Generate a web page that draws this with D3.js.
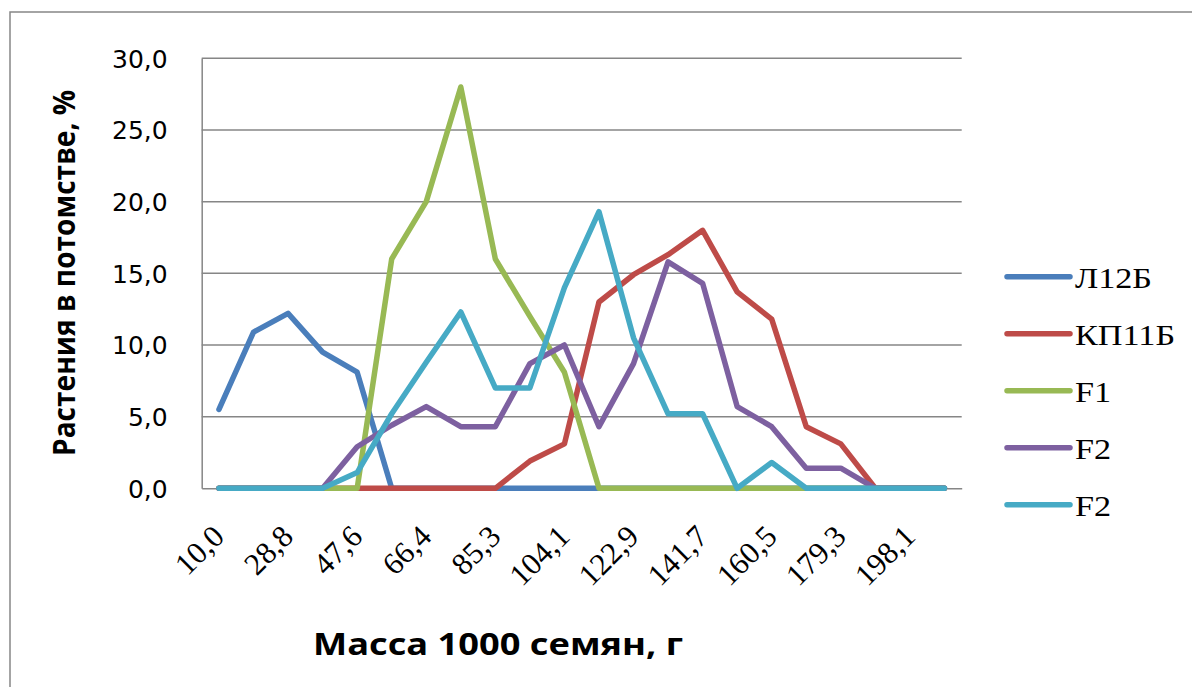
<!DOCTYPE html>
<html>
<head>
<meta charset="utf-8">
<script src="https://cdn.jsdelivr.net/npm/d3@7"></script>
<style>
  html, body { margin: 0; padding: 0; background: #ffffff; }
  svg { display: block; }
</style>
</head>
<body>
<svg id="chart" width="1192" height="687"></svg>
<script>
// ---- data ----
const categories = ["10,0","19,4","28,8","38,2","47,6","57,0","66,4","75,8","85,3","94,7","104,1",
                    "113,5","122,9","132,3","141,7","151,1","160,5","169,9","179,3","188,7","198,1","207,5"];
const xTickLabels = ["10,0","28,8","47,6","66,4","85,3","104,1","122,9","141,7","160,5","179,3","198,1"];
const yTicks = [0, 5, 10, 15, 20, 25, 30];
const seriesNames = ["Л12Б", "КП11Б", "F1", "F2", "F2"];
const seriesL12B  = [5.5,10.9,12.2,9.5,8.1,0,0,0,0,0,0,0,0,0,0,0,0,0,0,0,0,0];
const seriesKP11B = [0,0,0,0,0,0,0,0,0,1.9,3.1,13.0,14.9,16.3,18.0,13.7,11.8,4.3,3.1,0,0,0];
const seriesF1    = [0,0,0,0,0,16.0,20.0,28.0,16.0,12.0,8.1,0,0,0,0,0,0,0,0,0,0,0];
const seriesF2a   = [0,0,0,0,2.9,4.4,5.7,4.3,4.3,8.7,10.0,4.3,8.7,15.8,14.3,5.7,4.3,1.4,1.4,0,0,0];
const seriesF2b   = [0,0,0,0,1.1,5.2,8.8,12.3,7.0,7.0,14.0,19.3,10.5,5.2,5.2,0,1.8,0,0,0,0,0];
const seriesValues = [seriesL12B, seriesKP11B, seriesF1, seriesF2a, seriesF2b];
const colors = ["#4a7ebb", "#be4b48", "#98b954", "#7d60a0", "#46aac5"];

// ---- layout ----
const svg = d3.select("#chart");
const plot = { left: 201.7, right: 961.7, top: 58.3, bottom: 488.3 };
const gridColor = "#868686";

// chart area border
svg.append("rect")
  .attr("x", 10).attr("y", 12).attr("width", 1300).attr("height", 800)
  .attr("fill", "#ffffff").attr("stroke", "#878787").attr("stroke-width", 1.5);

const x = d3.scaleBand().domain(categories).range([plot.left, plot.right]).paddingInner(0).paddingOuter(0);
const y = d3.scaleLinear().domain([0, 30]).range([plot.bottom, plot.top]);
const cx = c => x(c) + x.bandwidth() / 2;

// gridlines
svg.append("g").selectAll("line")
  .data(yTicks.filter(t => t > 0))
  .join("line")
  .attr("x1", plot.left).attr("x2", plot.right)
  .attr("y1", d => y(d)).attr("y2", d => y(d))
  .attr("stroke", gridColor).attr("stroke-width", 1.5);

// y axis
const yAxis = svg.append("g")
  .attr("transform", `translate(${plot.left},0)`)
  .call(d3.axisLeft(y).tickValues(yTicks).tickSize(0).tickSizeOuter(0).tickPadding(34)
        .tickFormat(d => d.toFixed(1).replace(".", ",")));
yAxis.select(".domain").attr("stroke", gridColor).attr("stroke-width", 1.5);
yAxis.selectAll("text")
  .attr("font-family", "'DejaVu Sans', Verdana, sans-serif")
  .attr("font-size", 25).attr("fill", "#000")
  .attr("dy", "0.36em");

// x axis
const xAxis = svg.append("g")
  .attr("transform", `translate(0,${plot.bottom})`)
  .call(d3.axisBottom(x).tickValues(xTickLabels).tickSize(0).tickSizeOuter(0));
xAxis.select(".domain").attr("stroke", gridColor).attr("stroke-width", 1.5);
xAxis.selectAll("text")
  .attr("font-family", "'Liberation Serif', 'Times New Roman', serif")
  .attr("font-size", 31).attr("fill", "#000")
  .attr("text-anchor", "end")
  .attr("x", 0).attr("y", 0).attr("dy", 0)
  .attr("transform", "translate(7,50) rotate(-45)");

// lines
const line = d3.line()
  .x((d, i) => cx(categories[i]))
  .y(d => y(d));
svg.append("g").selectAll("path")
  .data(seriesValues)
  .join("path")
  .attr("d", d => line(d))
  .attr("fill", "none")
  .attr("stroke", (d, i) => colors[i])
  .attr("stroke-width", 5.5)
  .attr("stroke-linejoin", "round")
  .attr("stroke-linecap", "round");

// legend
const legend = svg.append("g");
seriesNames.forEach((name, i) => {
  const ly = 276.7 + i * 57;
  legend.append("line")
    .attr("x1", 1007).attr("x2", 1070).attr("y1", ly).attr("y2", ly)
    .attr("stroke", colors[i]).attr("stroke-width", 5.5).attr("stroke-linecap", "round");
  legend.append("text")
    .attr("transform", `translate(1075,${ly + 11}) scale(1.14,1)`)
    .attr("font-family", "'Liberation Serif', 'Times New Roman', serif")
    .attr("font-size", 30).attr("fill", "#000")
    .text(name);
});

// axis titles
svg.append("text")
  .attr("transform", "translate(75,273) rotate(-90)")
  .attr("text-anchor", "middle")
  .attr("font-family", "'Open Sans', sans-serif")
  .attr("font-weight", "bold")
  .attr("font-size", 30)
  .attr("textLength", 366).attr("lengthAdjust", "spacingAndGlyphs")
  .attr("fill", "#000")
  .text("Растения в потомстве, %");

svg.append("text")
  .attr("x", 498).attr("y", 655)
  .attr("text-anchor", "middle")
  .attr("font-family", "'Open Sans', sans-serif")
  .attr("font-weight", "bold")
  .attr("font-size", 31)
  .attr("textLength", 370).attr("lengthAdjust", "spacingAndGlyphs")
  .attr("fill", "#000")
  .text("Масса 1000 семян, г");
</script>
</body>
</html>
